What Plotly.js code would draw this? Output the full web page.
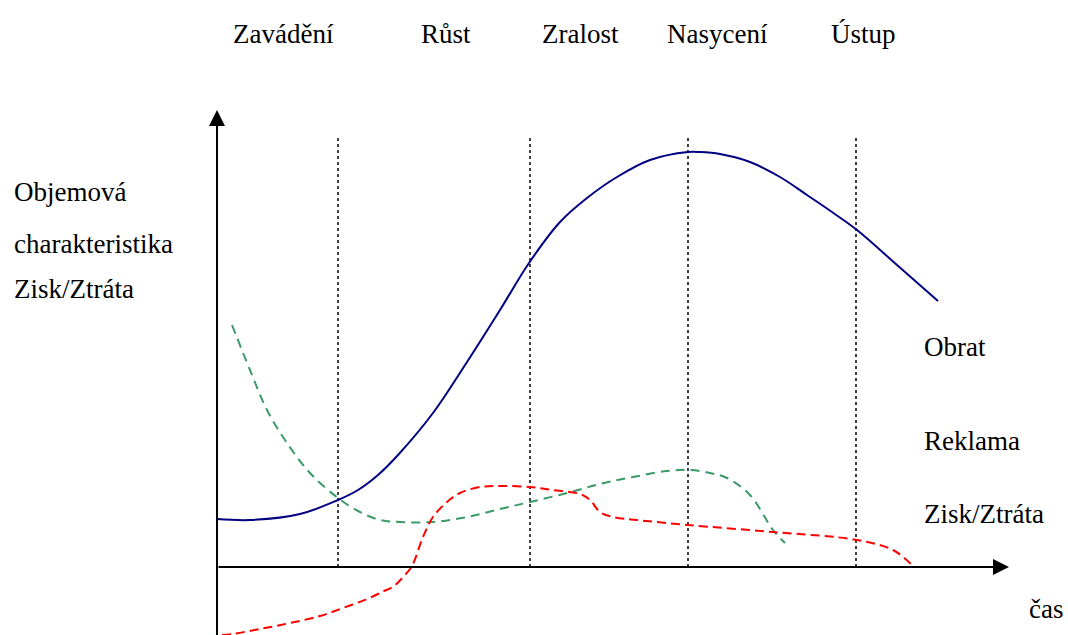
<!DOCTYPE html>
<html>
<head>
<meta charset="utf-8">
<script src="https://cdn.plot.ly/plotly-3.0.1.min.js"></script>
<style>html,body{margin:0;padding:0;background:#fff;}#chart{width:1068px;height:635px;}</style>
</head>
<body>
<div id="chart"></div>
<script>
// Phases of the product life cycle
const phaseLabels = ["Zavádění", "Růst", "Zralost", "Nasycení", "Ústup"];
const phaseCenters = [66, 229, 363, 500, 646];
const phaseBounds = [121, 313, 471, 639];

// Obrat (turnover)
const obratT = [0, 33, 83, 121, 141, 161, 181, 216, 250, 283, 312, 343, 370, 400, 433, 471, 483, 503, 533, 563, 590, 615, 640, 680, 721];
const obratV = [48, 47, 53, 67, 77, 92, 112, 154, 205, 257, 304, 345, 369, 390, 407, 415, 415, 413, 405, 390, 372, 355, 337, 302, 266];

// Reklama (advertising)
const reklamaT = [15, 33, 50, 70, 93, 121, 143, 163, 183, 216, 250, 283, 313, 350, 383, 416, 450, 473, 493, 510, 533, 556, 568];
const reklamaV = [242, 197, 157, 124, 94, 69, 55, 47, 45, 45, 50, 58, 65, 74, 83, 90, 96, 97, 94, 89, 72, 37, 24];

// Zisk/Ztráta (profit/loss)
const ziskT = [5, 15, 43, 73, 103, 126, 150, 165, 177, 187, 195, 206, 216, 230, 243, 263, 283, 313, 336, 363, 373, 383, 396, 420, 471, 556, 640, 676, 696];
const ziskV = [-68, -67, -62, -56, -49, -41, -32, -25, -19, -9, 1, 30, 50, 65, 74, 80, 81, 80, 77, 73, 67, 55, 50, 47, 42, 35, 27, 17, 1];

const seriesLabels = ["Obrat", "Reklama", "Zisk/Ztráta"];
const yLabelLines = ["Objemová", "charakteristika", "Zisk/Ztráta"];
const xLabel = "čas";

const serif = {family: "Liberation Serif, Times New Roman, serif", size: 27, color: "#000"};

const traces = [
  {x: obratT, y: obratV, mode: "lines", line: {color: "#000080", width: 2, shape: "spline", smoothing: 1}, hoverinfo: "skip"},
  {x: reklamaT, y: reklamaV, mode: "lines", line: {color: "#3a9a68", width: 2, dash: "9px,6px", shape: "spline", smoothing: 1}, hoverinfo: "skip"},
  {x: ziskT, y: ziskV, mode: "lines", line: {color: "#ff0000", width: 2, dash: "9px,5px", shape: "spline", smoothing: 1}, hoverinfo: "skip"}
];

const shapes = phaseBounds.map(b => ({
  type: "line", xref: "x", yref: "y", x0: b, x1: b, y0: 0, y1: 430,
  line: {color: "#000", width: 1.5, dash: "dot"}, layer: "below"
}));

const annotations = [];
phaseLabels.forEach((t, i) => annotations.push({
  text: t, x: phaseCenters[i], y: 533, xref: "x", yref: "y",
  xanchor: "center", yanchor: "middle", showarrow: false, font: serif
}));
const yLabelY = [375, 323, 278];
yLabelLines.forEach((t, i) => annotations.push({
  text: t, x: -205, y: yLabelY[i], xref: "x", yref: "y",
  xanchor: "left", yanchor: "middle", showarrow: false, font: serif
}));
const seriesLabelY = [220, 126, 53];
seriesLabels.forEach((t, i) => annotations.push({
  text: t, x: 705, y: seriesLabelY[i], xref: "x", yref: "y",
  xanchor: "left", yanchor: "middle", showarrow: false, font: serif
}));
annotations.push({text: xLabel, x: 810, y: -42, xref: "x", yref: "y",
  xanchor: "left", yanchor: "middle", showarrow: false, font: serif});

// axes with arrows
annotations.push({text: "", x: 0, y: 457, ax: 0, ay: -70, xref: "x", yref: "y", axref: "x", ayref: "y",
  showarrow: true, arrowhead: 2, arrowsize: 1.6, arrowwidth: 2, arrowcolor: "#000", standoff: 0});
annotations.push({text: "", x: 792, y: 0, ax: 0, ay: 0, xref: "x", yref: "y", axref: "x", ayref: "y",
  showarrow: true, arrowhead: 2, arrowsize: 1.6, arrowwidth: 2, arrowcolor: "#000", standoff: 0});

const layout = {
  width: 1068, height: 635,
  margin: {l: 0, r: 0, t: 0, b: 0},
  paper_bgcolor: "#fff", plot_bgcolor: "#fff",
  showlegend: false,
  xaxis: {range: [-217, 851], visible: false, fixedrange: true},
  yaxis: {range: [-68, 567], visible: false, fixedrange: true},
  shapes: shapes,
  annotations: annotations
};

Plotly.newPlot("chart", traces, layout, {displayModeBar: false, staticPlot: true});
</script>
</body>
</html>
